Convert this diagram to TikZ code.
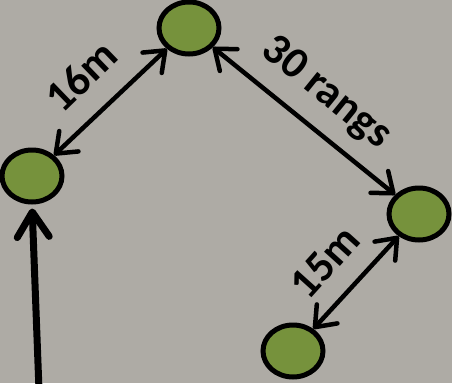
\documentclass[tikz,border=0pt]{standalone}
\usepackage{fontspec}
\setmainfont{Carlito}
\usetikzlibrary{shapes.geometric,arrows.meta}
\definecolor{bgc}{RGB}{174,171,165}
\definecolor{dotgreen}{RGB}{118,146,60}
\tikzset{
  spot/.style={ellipse, draw=black, line width=5pt, fill=dotgreen, minimum width=60pt, minimum height=52pt, inner sep=0pt},
  dist/.style={line width=4.5pt, {Straight Barb[round,length=18pt,width=28pt]}-{Straight Barb[round,length=18pt,width=28pt]}},
  lbl/.style={font=\bfseries\fontsize{44}{46}\selectfont, inner sep=0pt, text=black},
}
\begin{document}
\begin{tikzpicture}[x=1pt,y=-1pt]
\fill[bgc] (0,0) rectangle (452,383);
\useasboundingbox (0,0) rectangle (452,383);
\node[spot] (T) at (189,28) {};
\node[spot] (L) at (32,176) {};
\node[spot] (R) at (419,214) {};
\node[spot] (B) at (293,351) {};
\coordinate (start) at (39,390);
\draw[dist] (L) -- (T);
\draw[dist] (T) -- (R);
\draw[dist] (B) -- (R);
\draw[line width=7pt, -{Straight Barb[round,length=25pt,width=32pt]}, shorten >=4pt] (start) -- (L.south);
\node[lbl, rotate=44] (l16) at (81,76) {16m};
\node[lbl, rotate=-39] (l30) at (326,93) {30 rangs};
\node[lbl, rotate=48] (l15) at (325,262) {15m};
\end{tikzpicture}
\end{document}
